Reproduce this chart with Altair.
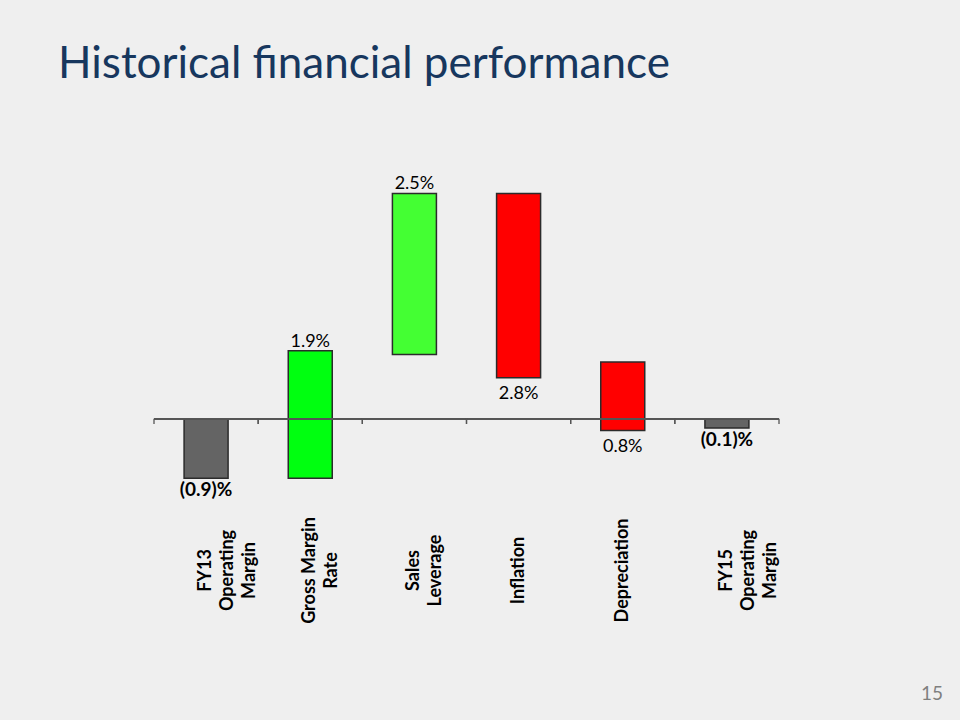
import altair as alt
import pandas as pd

# ---- data ----
categories = ["FY13|Operating|Margin", "Gross Margin|Rate", "Sales|Leverage",
              "Inflation", "Depreciation", "FY15|Operating|Margin"]
bar_start = [0.0, -0.9, 0.97, 3.41, 0.86, 0.0]
bar_end = [-0.9, 1.03, 3.41, 0.62, -0.18, -0.14]
kinds = ["total", "up", "up", "down", "down", "total"]
value_labels = ["(0.9)%", "1.9%", "2.5%", "2.8%", "0.8%", "(0.1)%"]
bar_colors = ["#646464", "#00FF10", "#44FF33", "#FF0000", "#FF0000", "#646464"]
page_number = ["15"]

df = pd.DataFrame({
    "cat": categories,
    "start": bar_start,
    "end": bar_end,
    "kind": kinds,
    "label": value_labels,
})

FONT = "Lato"
W, H = 625, 337

xenc = alt.X(
    "cat:N",
    sort=categories,
    scale=alt.Scale(paddingInner=0, paddingOuter=0),
    axis=alt.Axis(
        title=None, domain=False, ticks=False, tickSize=0,
        labelAngle=270, labelAlign="center", labelBaseline="middle",
        labelPadding=72, labelFont=FONT, labelFontWeight="bold",
        labelFontSize=18, labelColor="#000000", labelLineHeight=22,
        labelLimit=300, labelExpr="split(datum.label, '|')",
    ),
)
yscale = alt.Scale(domain=[-1.2, 3.9], nice=False, zero=False)

base = alt.Chart(df)

bars = base.mark_bar(size=44, stroke="#2b2b2b", strokeWidth=1.5).encode(
    x=xenc,
    y=alt.Y("start:Q", scale=yscale, axis=None),
    y2="end:Q",
    color=alt.Color("cat:N", scale=alt.Scale(domain=categories, range=bar_colors), legend=None),
)

zero_line = base.mark_rule(color="#555555", strokeWidth=1.5).encode(y=alt.datum(0))

ticks_start = base.mark_rule(color="#555555", strokeWidth=1.3).encode(
    x=alt.X("cat:N", sort=categories, bandPosition=0),
    y=alt.datum(0), y2=alt.datum(-0.08),
)
ticks_end = base.mark_rule(color="#555555", strokeWidth=1.3).encode(
    x=alt.X("cat:N", sort=categories, bandPosition=1),
    y=alt.datum(0), y2=alt.datum(-0.08),
)

up_text = base.transform_filter(alt.datum.kind == "up").mark_text(
    baseline="alphabetic", dy=-4, font=FONT, fontSize=18, color="#000000"
).encode(x=alt.X("cat:N", sort=categories), y="end:Q", text="label:N")

down_text = base.transform_filter(alt.datum.kind == "down").mark_text(
    baseline="top", dy=7, font=FONT, fontSize=18, color="#000000"
).encode(x=alt.X("cat:N", sort=categories), y="end:Q", text="label:N")

total_text = base.transform_filter(alt.datum.kind == "total").mark_text(
    baseline="top", dy=3, font=FONT, fontSize=19, fontWeight="bold", color="#000000"
).encode(x=alt.X("cat:N", sort=categories), y="end:Q", text="label:N")

page = alt.Chart(pd.DataFrame({"p": page_number})).mark_text(
    font=FONT, fontSize=19, color="#7F7F7F", align="center", baseline="alphabetic"
).encode(x=alt.value(778), y=alt.value(539), text="p:N")

chart = alt.layer(
    bars, zero_line, ticks_start, ticks_end, up_text, down_text, total_text, page
).properties(
    width=W,
    height=H,
    autosize=alt.AutoSizeParams(type="none"),
    padding={"left": 154, "top": 161, "right": 181, "bottom": 222},
    background="#EFEFEF",
    title=alt.TitleParams(
        "Historical financial performance",
        anchor="start", frame="group", orient="top",
        font=FONT, fontSize=44, fontWeight="normal", color="#17375E",
        baseline="alphabetic", offset=39, dx=-96,
    ),
).configure_view(stroke=None)

chart.save("out.html", embed_options={"renderer": "svg", "actions": False})
